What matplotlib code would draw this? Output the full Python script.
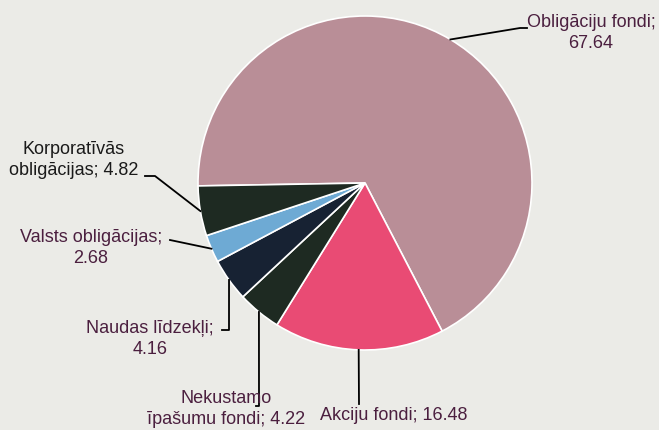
import numpy as np
import matplotlib.pyplot as plt

plt.rcParams['font.family'] = ['Liberation Sans', 'DejaVu Sans']

# data
categories = ["Obligāciju fondi", "Akciju fondi", "Nekustamo īpašumu fondi",
              "Naudas līdzekļi", "Valsts obligācijas", "Korporatīvās obligācijas"]
values = [67.64, 16.48, 4.22, 4.16, 2.68, 4.82]
labels = ["Obligāciju fondi;\n67.64", "Akciju fondi; 16.48", "Nekustamo\nīpašumu fondi; 4.22",
          "Naudas līdzekļi;\n4.16", "Valsts obligācijas;\n2.68", "Korporatīvās\nobligācijas; 4.82"]
colors = ["#b98e97", "#e94b74", "#1e2a22", "#172233", "#6eaad4", "#1e2a22"]
label_colors = ["#4b1f3f", "#4b1f3f", "#4b1f3f", "#4b1f3f", "#4b1f3f", "#1a1a1a"]

bg = "#ebebe7"
W, H = 659, 430
fig = plt.figure(figsize=(W / 100, H / 100), dpi=100, facecolor=bg)

cx, cy, r = 365, 183, 167
ax = fig.add_axes([(cx - r) / W, (H - cy - r) / H, 2 * r / W, 2 * r / H])
ax.set_facecolor(bg)

start = 181
wedges, _ = ax.pie(values, colors=colors, startangle=start, counterclock=False,
                   radius=1, wedgeprops=dict(edgecolor="white", linewidth=1.2))
ax.set_xlim(-1, 1)
ax.set_ylim(-1, 1)
ax.set_aspect("equal")
ax.axis("off")


def px(x, y):
    # pixel -> data coords
    return (x - cx) / r, (cy - y) / r


# leader line bends (pixels) and label positions (pixels)
bends = [[(520, 28), (527, 28)],
         [(359, 404)],
         [(259, 406), (256, 406)],
         [(229, 330), (222, 330)],
         [(170, 240)],
         [(155, 176), (145, 176)]]
text_pos = [(591, 33), (394, 415), (226, 409), (150, 339), (91, 248), (74, 160)]

for w, b, tp, lab, lc in zip(wedges, bends, text_pos, labels, label_colors):
    mid = np.deg2rad((w.theta1 + w.theta2) / 2)
    ex, ey = np.cos(mid), np.sin(mid)
    pts = [(ex, ey)] + [px(*p) for p in b]
    xs, ys = zip(*pts)
    ax.plot(xs, ys, color="black", lw=1.3, clip_on=False)
    tx, ty = px(*tp)
    ax.text(tx, ty, lab, ha="center", va="center", fontsize=13, color=lc,
            linespacing=1.3)

fig.savefig("out.png", dpi=100, facecolor=bg)
